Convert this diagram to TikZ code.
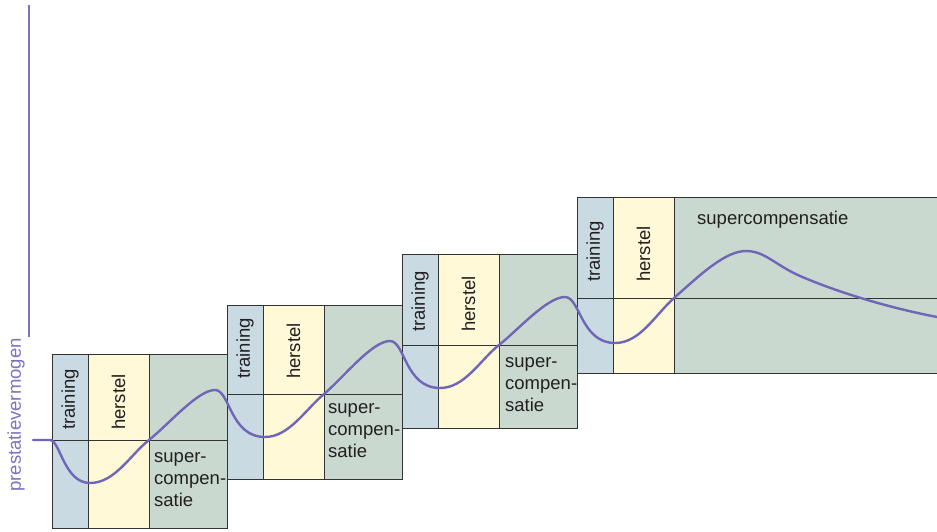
\documentclass[tikz,border=0pt]{standalone}
\usepackage{fontspec}
\setmainfont{Liberation Sans}
\definecolor{trainc}{HTML}{C9DAE3}
\definecolor{herstc}{HTML}{FFF9D8}
\definecolor{superc}{HTML}{C9D9D0}
\definecolor{curvec}{HTML}{6F66B8}
\definecolor{axisc}{HTML}{7A74C0}
\definecolor{inkc}{HTML}{231F20}
\definecolor{edgec}{HTML}{333333}
\begin{document}
\begin{tikzpicture}[x=1pt,y=-1pt,
  boxedge/.style={draw=edgec,line width=0.9pt},
  hline/.style={draw=edgec,line width=0.8pt},
  lbl/.style={font=\fontsize{18.5}{22}\selectfont,text=inkc,inner sep=0pt},
  vlbl/.style={lbl,rotate=90,anchor=west},
  curve/.style={draw=curvec,line width=2.4pt,line cap=round,line join=round}]
\useasboundingbox (0,0) rectangle (937,532);
% boxes
\foreach \L/\T/\B/\Y/\S/\R [count=\i] in
  {52/354/528/440/430/227.5, 227/305/479/394/379/402, 402/254/428/345/332/577, 577/197/373/298/282/938.5}{
  \fill[trainc] (\L,\T) rectangle (\L+36,\B);
  \fill[herstc] (\L+36,\T) rectangle (\L+97,\B);
  \fill[superc] (\L+97,\T) rectangle (\R,\B);
  \draw[boxedge] (\L,\T) rectangle (\R,\B);
  \draw[boxedge] (\L+36,\T) -- (\L+36,\B);
  \draw[boxedge] (\L+97,\T) -- (\L+97,\B);
  \draw[hline] (\L,\Y) -- (\R,\Y);
  \node[vlbl] (tr\i) at (\L+18,\S) {training};
  \node[vlbl] (he\i) at (\L+66.5,\S) {herstel};
}
\node[lbl,anchor=north west,align=left] (sc1) at (154,452.4) {super-\\compen-\\satie};
\node[lbl,anchor=north west,align=left] (sc2) at (328,403.4) {super-\\compen-\\satie};
\node[lbl,anchor=north west,align=left] (sc3) at (505,357.4) {super-\\compen-\\satie};
\node[lbl,anchor=base west] (sc4) at (697,224) {supercompensatie};
% axis
\draw[axisc,line width=2pt] (29,5) -- (29,337);
\node[lbl,text=axisc,rotate=90] (ylab) at (16,415) {prestatievermogen};
% curve
\draw[curve] (33,440) -- (50,440)
  .. controls (60,440) and (64,483) .. (90,483)
  .. controls (115,483) and (130,455) .. (149,440)
  .. controls (170,423) and (198,390) .. (215,390)
  .. controls (230,390) and (230,437) .. (265,437)
  .. controls (289,437) and (305,410) .. (324,394)
  .. controls (343,378) and (372,341) .. (390,341)
  .. controls (405,341) and (405,388) .. (440,388)
  .. controls (465,388) and (480,360) .. (499,345)
  .. controls (518,330) and (547,297) .. (565,297)
  .. controls (580,297) and (581,343) .. (615,343)
  .. controls (640,343) and (655,315) .. (674,298)
  .. controls (700,275) and (725,251) .. (746,251)
  .. controls (765,251) and (775,265) .. (800,276)
  .. controls (830,289) and (880,306) .. (937,317);
\end{tikzpicture}
\end{document}
